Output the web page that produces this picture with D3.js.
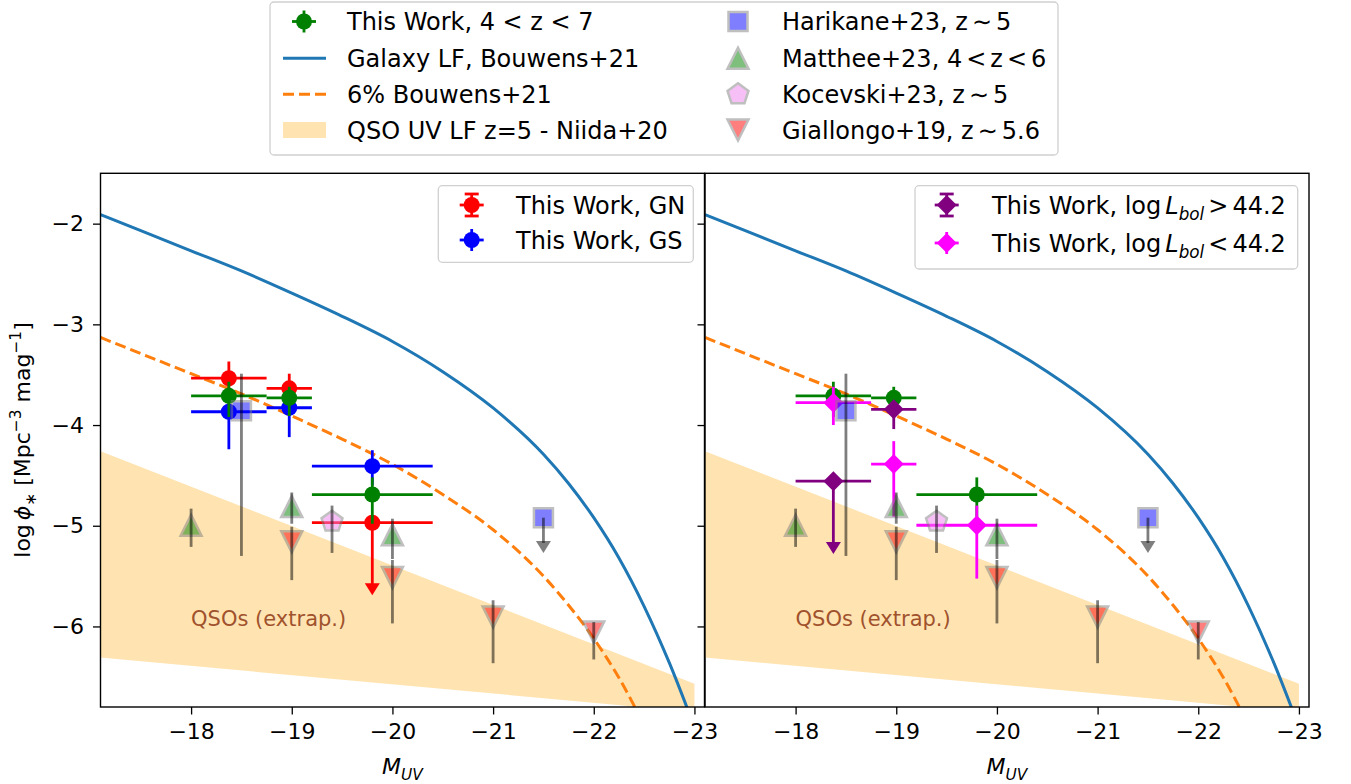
<!DOCTYPE html>
<html>
<head>
<meta charset="utf-8">
<script src="https://cdn.jsdelivr.net/npm/d3@7"></script>
<style>
  body { margin: 0; background: #fff; }
  text { font-family: "DejaVu Sans", sans-serif; fill: #000; }
</style>
</head>
<body>
<svg id="chart"></svg>
<script>
// axis ranges
const X_DOMAIN = [-17.1, -23.1];
const Y_DOMAIN = [-6.8, -1.5];
const X_TICKS = [-18, -19, -20, -21, -22, -23];
const Y_TICKS = [-6, -5, -4, -3, -2];

// Galaxy LF (Bouwens+21)
const galaxyM   = [-17.1, -17.5, -18.0, -18.5, -19.0, -19.5, -20.0, -20.5, -21.0, -21.5, -21.75, -22.0, -22.25, -22.5, -22.75, -23.0];
const galaxyPhi = [-1.91, -2.07, -2.27, -2.47, -2.69, -2.92, -3.17, -3.47, -3.83, -4.29, -4.58, -4.92, -5.32, -5.80, -6.36, -7.00];
// 6% of Bouwens+21
const sixM   = [-17.1, -17.5, -18.0, -18.5, -19.0, -19.5, -20.0, -20.5, -21.0, -21.5, -21.75, -22.0, -22.25, -22.5];
const sixPhi = [-3.13, -3.29, -3.49, -3.69, -3.91, -4.14, -4.39, -4.69, -5.04, -5.50, -5.79, -6.12, -6.51, -6.98];
// QSO UV LF band (Niida+20)
const qsoM     = [-17.0, -23.0];
const qsoUpper = [-4.22, -6.57];
const qsoLower = [-6.30, -6.85];

// This Work bins
const binCenter = [-18.375, -18.975, -19.8];
const binLo     = [-18.0, -18.75, -19.2];
const binHi     = [-18.75, -19.2, -20.4];

// This Work, 4 < z < 7
const allPhi = [-3.71, -3.73, -4.69];
const allLo  = [-3.92, -3.91, -4.98];
const allHi  = [-3.57, -3.62, -4.52];
// GN
const gnPhi   = [-3.535, -3.635, -4.97];
const gnLo    = [-3.70, -3.78, -5.69];
const gnHi    = [-3.37, -3.49, -4.97];
const gnLimit = [false, false, true];
// GS
const gsPhi = [-3.868, -3.828, -4.408];
const gsLo  = [-4.24, -4.12, -4.60];
const gsHi  = [-3.70, -3.70, -4.25];
// log Lbol > 44.2 (first two bins)
const brightPhi   = [-4.557, -3.844];
const brightLo    = [-5.28, -4.04];
const brightHi    = [-4.557, -3.77];
const brightLimit = [true, false];
// log Lbol < 44.2
const faintPhi = [-3.778, -4.388, -4.995];
const faintLo  = [-4.00, -4.91, -5.525];
const faintHi  = [-3.62, -4.16, -4.80];

// literature
const harikaneM     = [-18.5, -21.5];
const harikanePhi   = [-3.857, -4.92];
const harikaneLo    = [-5.30, -5.27];
const harikaneHi    = [-3.49, -4.92];
const harikaneLimit = [false, true];
const mattheeM   = [-18.0, -19.0, -20.0];
const mattheePhi = [-4.995, -4.81, -5.09];
const mattheeLo  = [-5.21, -4.98, -5.33];
const mattheeHi  = [-4.83, -4.67, -4.93];
const kocevskiM   = [-19.4];
const kocevskiPhi = [-4.96];
const kocevskiLo  = [-5.27];
const kocevskiHi  = [-4.80];
const giallongoM   = [-19.0, -20.0, -21.0, -22.0];
const giallongoPhi = [-5.16, -5.515, -5.907, -6.056];
const giallongoLo  = [-5.54, -5.97, -6.365, -6.328];
const giallongoHi  = [-5.01, -5.34, -5.74, -5.957];

const W = 1351, H = 784;
const TICK_FONT = 22, LEG_FONT = 24;
const LW = 2.8;

const svg = d3.select("#chart").attr("width", W).attr("height", H);

const Y_SCALE = d3.scaleLinear().domain(Y_DOMAIN).range([707, 173.3]);
const PANELS = [
  {x: d3.scaleLinear().domain(X_DOMAIN).range([100.5, 704.5]), left: true},
  {x: d3.scaleLinear().domain(X_DOMAIN).range([705, 1309]), left: false}
];

function shape(type, r) {
  if (type === "square") return `M${-r},${-r}H${r}V${r}H${-r}Z`;
  if (type === "up") return `M0,${-r}L${r},${r}L${-r},${r}Z`;
  if (type === "down") return `M0,${r}L${r},${-r}L${-r},${-r}Z`;
  if (type === "diamond") return `M0,${-r}L${r},0L0,${r}L${-r},0Z`;
  if (type === "pentagon") {
    const pts = d3.range(5).map(k => {
      const a = -Math.PI / 2 + k * 2 * Math.PI / 5;
      return [r * Math.cos(a), r * Math.sin(a)];
    });
    return "M" + pts.join("L") + "Z";
  }
  return "";
}

function arrowHead(g, x, yTip, color, opacity) {
  g.append("path")
    .attr("d", `M${x},${yTip}L${x - 7.5},${yTip - 12}L${x + 7.5},${yTip - 12}Z`)
    .attr("fill", color).attr("opacity", opacity);
}

// rich text with italic / sub / sup parts and optional dx gaps
function rich(sel, parts, size) {
  let shift = 0;
  parts.forEach(p => {
    const s = p.sub ? size * 0.25 : p.sup ? -size * 0.42 : 0;
    const ts = sel.append("tspan").text(p.t)
      .attr("font-size", (p.sub || p.sup) ? size * 0.7 : size)
      .attr("dy", s - shift);
    if (p.dx) ts.attr("dx", p.dx);
    if (p.it) ts.attr("font-style", "italic");
    shift = s;
  });
  return sel;
}

// This Work series with x bins
function workSeries(g, X, idx, phi, lo, hi, limit, color, type) {
  idx.forEach((b, i) => {
    const cx = X(binCenter[b]), cy = Y_SCALE(phi[i]);
    g.append("line")
      .attr("x1", X(binLo[b])).attr("x2", X(binHi[b]))
      .attr("y1", cy).attr("y2", cy)
      .attr("stroke", color).attr("stroke-width", LW);
    if (limit && limit[i]) {
      g.append("line")
        .attr("x1", cx).attr("x2", cx)
        .attr("y1", cy).attr("y2", Y_SCALE(lo[i]) - 10)
        .attr("stroke", color).attr("stroke-width", LW);
      arrowHead(g, cx, Y_SCALE(lo[i]), color, 1);
    } else {
      g.append("line")
        .attr("x1", cx).attr("x2", cx)
        .attr("y1", Y_SCALE(lo[i])).attr("y2", Y_SCALE(hi[i]))
        .attr("stroke", color).attr("stroke-width", LW);
    }
    if (type === "circle") {
      g.append("circle").attr("cx", cx).attr("cy", cy).attr("r", 8).attr("fill", color);
    } else {
      g.append("path").attr("transform", `translate(${cx},${cy})`)
        .attr("d", shape("diamond", 10)).attr("fill", color);
    }
  });
}

// literature series
function litSeries(g, X, ms, phi, lo, hi, limit, color, type, r) {
  ms.forEach((m, i) => {
    const cx = X(m), cy = Y_SCALE(phi[i]);
    g.append("path").attr("transform", `translate(${cx},${cy})`)
      .attr("d", shape(type, r))
      .attr("fill", color).attr("stroke", "gray").attr("stroke-width", 2.5)
      .attr("stroke-linejoin", "miter").attr("opacity", 0.5);
    if (limit && limit[i]) {
      g.append("line")
        .attr("x1", cx).attr("x2", cx)
        .attr("y1", cy).attr("y2", Y_SCALE(lo[i]) - 10)
        .attr("stroke", "#000").attr("stroke-width", LW).attr("opacity", 0.5);
      arrowHead(g, cx, Y_SCALE(lo[i]), "#000", 0.5);
    } else {
      g.append("line")
        .attr("x1", cx).attr("x2", cx)
        .attr("y1", Y_SCALE(lo[i])).attr("y2", Y_SCALE(hi[i]))
        .attr("stroke", "#000").attr("stroke-width", LW).attr("opacity", 0.5);
    }
  });
}

PANELS.forEach((p, pi) => {
  const X = p.x;
  const [x0, x1] = X.range();
  const [yb, yt] = Y_SCALE.range();

  svg.append("clipPath").attr("id", "clip" + pi)
    .append("rect").attr("x", x0).attr("y", yt).attr("width", x1 - x0).attr("height", yb - yt);

  const g = svg.append("g").attr("clip-path", `url(#clip${pi})`);

  // QSO band
  const band = qsoM.map((m, i) => ({m, u: qsoUpper[i], l: qsoLower[i]}));
  g.append("path").datum(band)
    .attr("d", d3.area().x(d => X(d.m)).y0(d => Y_SCALE(d.l)).y1(d => Y_SCALE(d.u)))
    .attr("fill", "#ffe4b2");

  // galaxy LF and 6%
  const line = d3.line().curve(d3.curveMonotoneX).x(d => X(d[0])).y(d => Y_SCALE(d[1]));
  g.append("path").datum(galaxyM.map((m, i) => [m, galaxyPhi[i]]))
    .attr("d", line).attr("fill", "none").attr("stroke", "#1f77b4").attr("stroke-width", 3);
  g.append("path").datum(sixM.map((m, i) => [m, sixPhi[i]]))
    .attr("d", line).attr("fill", "none").attr("stroke", "#ff7f0e")
    .attr("stroke-width", 3).attr("stroke-dasharray", "11,5");

  g.append("text").attr("x", X(-18)).attr("y", Y_SCALE(-6))
    .attr("font-size", 21).style("fill", "#a0522d").text("QSOs (extrap.)");

  // This Work
  if (p.left) {
    workSeries(g, X, [0, 1, 2], gnPhi, gnLo, gnHi, gnLimit, "#ff0000", "circle");
    workSeries(g, X, [0, 1, 2], gsPhi, gsLo, gsHi, null, "#0000ff", "circle");
    workSeries(g, X, [0, 1, 2], allPhi, allLo, allHi, null, "#008000", "circle");
  } else {
    workSeries(g, X, [0, 1, 2], allPhi, allLo, allHi, null, "#008000", "circle");
    workSeries(g, X, [0, 1, 2], faintPhi, faintLo, faintHi, null, "#ff00ff", "diamond");
    workSeries(g, X, [0, 1], brightPhi, brightLo, brightHi, brightLimit, "#800080", "diamond");
  }

  // literature
  litSeries(g, X, harikaneM, harikanePhi, harikaneLo, harikaneHi, harikaneLimit, "#0000ff", "square", 9.5);
  litSeries(g, X, mattheeM, mattheePhi, mattheeLo, mattheeHi, null, "#008000", "up", 10.5);
  litSeries(g, X, kocevskiM, kocevskiPhi, kocevskiLo, kocevskiHi, null, "violet", "pentagon", 11);
  litSeries(g, X, giallongoM, giallongoPhi, giallongoLo, giallongoHi, null, "#ff0000", "down", 10.5);

  // frame
  svg.append("rect").attr("x", x0).attr("y", yt).attr("width", x1 - x0).attr("height", yb - yt)
    .attr("fill", "none").attr("stroke", "#000").attr("stroke-width", 1.4);

  // axes
  const xAxis = svg.append("g").attr("transform", `translate(0,${yb})`)
    .call(d3.axisBottom(X).tickValues(X_TICKS).tickFormat(d3.format("d")).tickSize(7.5).tickPadding(9));
  const yAxis = svg.append("g").attr("transform", `translate(${x0},0)`)
    .call(d3.axisLeft(Y_SCALE).tickValues(Y_TICKS).tickFormat(d3.format("d")).tickSize(7.5).tickPadding(9));
  [xAxis, yAxis].forEach(a => {
    a.select(".domain").remove();
    a.selectAll(".tick line").attr("stroke-width", 1.3);
    a.selectAll(".tick text").attr("font-size", TICK_FONT).attr("font-family", "DejaVu Sans");
  });
  if (!p.left) yAxis.selectAll(".tick text").remove();

  rich(svg.append("text").attr("x", (x0 + x1) / 2).attr("y", 774).attr("text-anchor", "middle"),
    [{t: "M", it: true}, {t: "UV", it: true, sub: true}], TICK_FONT);
});

// y label
rich(svg.append("text").attr("transform", "translate(30,440) rotate(-90)").attr("text-anchor", "middle"),
  [{t: "log"}, {t: "\u03d5", it: true, dx: 4}, {t: "\u2217", sub: true},
   {t: " [Mpc"}, {t: "\u22123", sup: true}, {t: " mag"}, {t: "\u22121", sup: true}, {t: "]"}], TICK_FONT);

// legends
function legendBox(x, y, w, h) {
  svg.append("rect").attr("x", x).attr("y", y).attr("width", w).attr("height", h)
    .attr("rx", 4).attr("fill", "#fff").attr("fill-opacity", 0.8)
    .attr("stroke", "#d0d0d0").attr("stroke-width", 1.3);
}
function workHandle(x, y, color, type, caps) {
  const g = svg.append("g").attr("transform", `translate(${x},${y})`);
  g.append("line").attr("x1", -12).attr("x2", 12).attr("stroke", color).attr("stroke-width", LW);
  g.append("line").attr("y1", -11).attr("y2", 11).attr("stroke", color).attr("stroke-width", LW);
  if (caps) {
    [-11, 11].forEach(c => g.append("line").attr("x1", -7).attr("x2", 7).attr("y1", c).attr("y2", c)
      .attr("stroke", color).attr("stroke-width", LW));
  }
  if (type === "circle") g.append("circle").attr("r", 8).attr("fill", color);
  else g.append("path").attr("d", shape("diamond", 10)).attr("fill", color);
}
function litHandle(x, y, color, type, r) {
  svg.append("path").attr("transform", `translate(${x},${y})`).attr("d", shape(type, r))
    .attr("fill", color).attr("stroke", "gray").attr("stroke-width", 2.5).attr("opacity", 0.5);
}
function legText(x, y, parts) {
  rich(svg.append("text").attr("x", x).attr("y", y + 8.5), parts, LEG_FONT);
}

// top legend
legendBox(270, 2, 788, 153);
const rows = [21.5, 58.3, 94.3, 130];
workHandle(304, rows[0], "#008000", "circle", false);
legText(347, rows[0], [{t: "This Work, 4 < z < 7"}]);
svg.append("line").attr("x1", 283).attr("x2", 326).attr("y1", rows[1]).attr("y2", rows[1])
  .attr("stroke", "#1f77b4").attr("stroke-width", 3);
legText(347, rows[1], [{t: "Galaxy LF, Bouwens+21"}]);
svg.append("line").attr("x1", 283).attr("x2", 326).attr("y1", rows[2]).attr("y2", rows[2])
  .attr("stroke", "#ff7f0e").attr("stroke-width", 3).attr("stroke-dasharray", "11,5");
legText(347, rows[2], [{t: "6% Bouwens+21"}]);
svg.append("rect").attr("x", 283).attr("y", rows[3] - 8).attr("width", 43).attr("height", 16)
  .attr("fill", "#ffe4b2");
legText(347, rows[3], [{t: "QSO UV LF z=5 - Niida+20"}]);

litHandle(738, rows[0], "#0000ff", "square", 9.5);
legText(782, rows[0], [{t: "Harikane+23, z"}, {t: "\u223c", dx: 4}, {t: "5", dx: 4}]);
litHandle(738, rows[1], "#008000", "up", 10.5);
legText(782, rows[1], [{t: "Matthee+23, 4"}, {t: "<", dx: 4}, {t: "z", dx: 4}, {t: "<", dx: 4}, {t: "6", dx: 4}]);
litHandle(738, rows[2], "violet", "pentagon", 11);
legText(782, rows[2], [{t: "Kocevski+23, z"}, {t: "\u223c", dx: 4}, {t: "5", dx: 4}]);
litHandle(738, rows[3], "#ff0000", "down", 10.5);
legText(782, rows[3], [{t: "Giallongo+19, z"}, {t: "\u223c", dx: 4}, {t: "5.6", dx: 4}]);

// left panel legend
legendBox(438.3, 185.7, 255, 76.6);
workHandle(471.7, 205, "#ff0000", "circle", true);
legText(516, 205, [{t: "This Work, GN"}]);
workHandle(471.7, 240, "#0000ff", "circle", false);
legText(516, 240, [{t: "This Work, GS"}]);

// right panel legend
legendBox(915, 185.7, 382.7, 83.3);
workHandle(946.7, 205, "#800080", "diamond", true);
legText(992, 205, [{t: "This Work, log"}, {t: "L", it: true, dx: 4}, {t: "bol", it: true, sub: true},
  {t: ">", dx: 4}, {t: "44.2", dx: 4}]);
workHandle(946.7, 243, "#ff00ff", "diamond", false);
legText(992, 243, [{t: "This Work, log"}, {t: "L", it: true, dx: 4}, {t: "bol", it: true, sub: true},
  {t: "<", dx: 4}, {t: "44.2", dx: 4}]);
</script>
</body>
</html>
